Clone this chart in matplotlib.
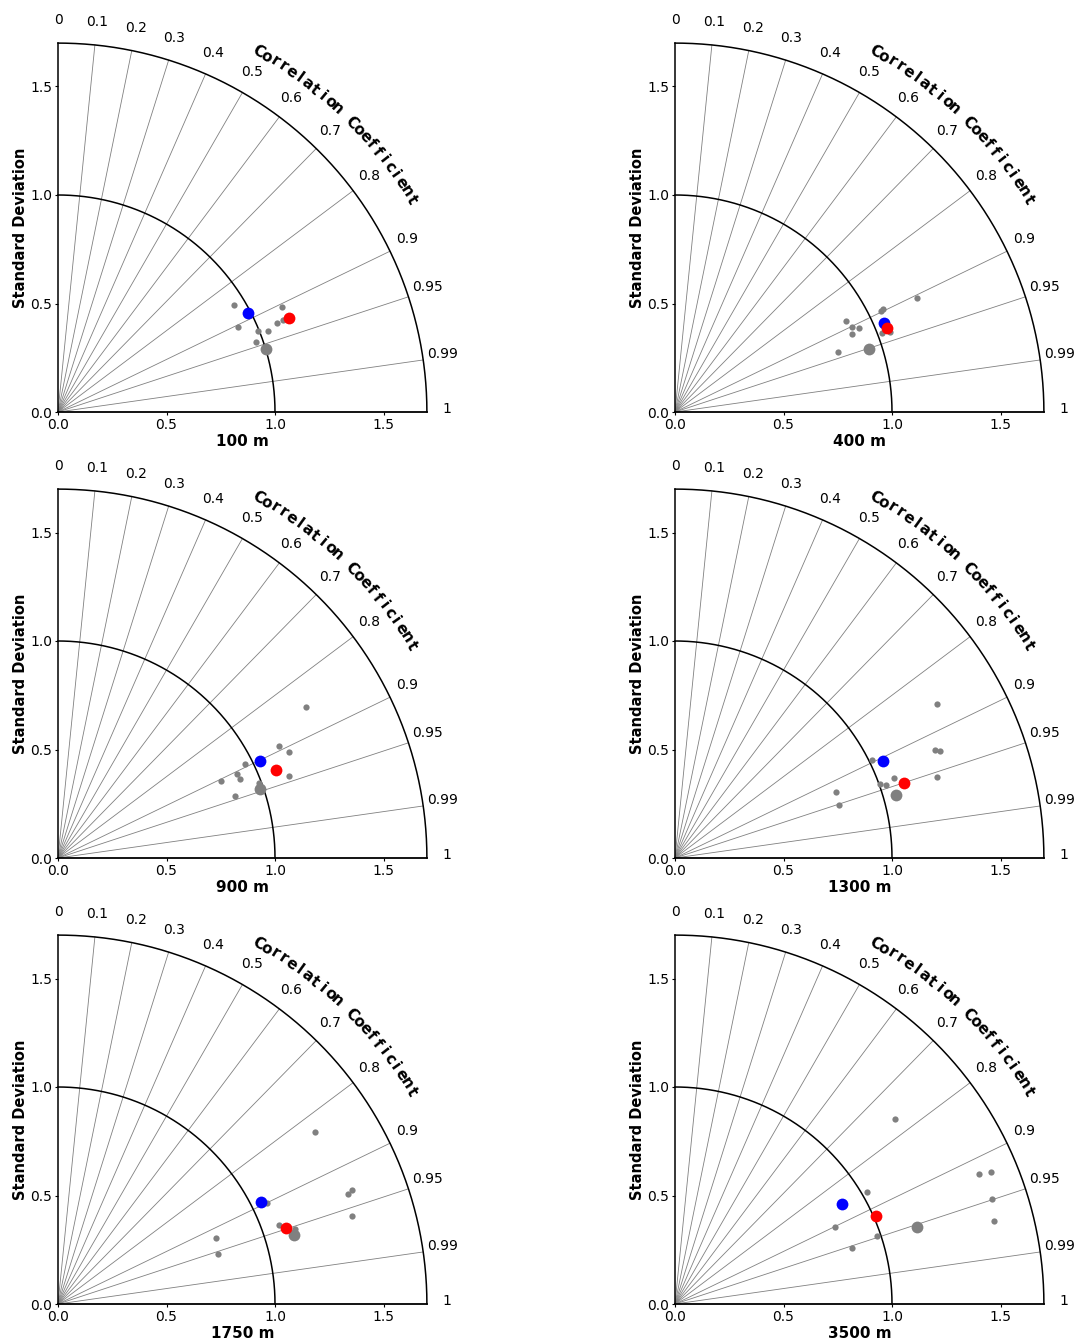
import numpy as np
import matplotlib
matplotlib.use("Agg")
import matplotlib.pyplot as plt

depths = ["100 m", "400 m", "900 m", "1300 m", "1750 m", "3500 m"]

# small grey points (members): std and correlation
members_std = [
    [0.950, 1.141, 1.092, 1.119, 0.916, 0.992, 1.035, 0.967],
    [1.232, 1.058, 1.069, 0.894, 0.902, 0.932, 0.889, 1.022, 1.057, 0.800],
    [1.340, 1.143, 1.172, 0.965, 0.912, 0.916, 0.830, 1.130, 0.988, 0.864],
    [1.401, 1.296, 1.318, 1.016, 1.077, 1.263, 1.004, 1.029, 0.800, 0.796],
    [1.423, 1.452, 1.427, 1.412, 1.068, 1.081, 1.146, 0.788, 0.774],
    [1.324, 1.523, 1.580, 1.537, 1.518, 1.023, 0.817, 0.983, 0.856],
]
members_corr = [
    [0.854, 0.906, 0.926, 0.925, 0.905, 0.927, 0.933, 0.943],
    [0.905, 0.898, 0.896, 0.882, 0.902, 0.910, 0.915, 0.934, 0.938, 0.939],
    [0.854, 0.892, 0.909, 0.894, 0.906, 0.918, 0.904, 0.942, 0.937, 0.944],
    [0.862, 0.924, 0.928, 0.895, 0.939, 0.955, 0.941, 0.945, 0.925, 0.951],
    [0.831, 0.932, 0.935, 0.958, 0.901, 0.941, 0.953, 0.923, 0.955],
    [0.766, 0.920, 0.923, 0.949, 0.968, 0.863, 0.902, 0.948, 0.953],
]
# large grey point
mean_std = [1.002, 0.941, 0.984, 1.058, 1.131, 1.172]
mean_corr = [0.957, 0.952, 0.946, 0.962, 0.960, 0.953]
# blue point
blue_std = [0.986, 1.046, 1.032, 1.057, 1.046, 0.899]
blue_corr = [0.887, 0.920, 0.902, 0.907, 0.893, 0.858]
# red point
red_std = [1.151, 1.052, 1.084, 1.110, 1.105, 1.009]
red_corr = [0.926, 0.930, 0.928, 0.950, 0.949, 0.916]

corr_ticks = [0, 0.1, 0.2, 0.3, 0.4, 0.5, 0.6, 0.7, 0.8, 0.9, 0.95, 0.99, 1]
corr_tick_labels = ["0", "0.1", "0.2", "0.3", "0.4", "0.5", "0.6", "0.7",
                    "0.8", "0.9", "0.95", "0.99", "1"]
std_ticks = [0.0, 0.5, 1.0, 1.5]
std_tick_labels = ["0.0", "0.5", "1.0", "1.5"]
RMAX = 1.7


def to_xy(std, corr):
    std = np.asarray(std, float)
    th = np.arccos(np.asarray(corr, float))
    return std * np.cos(th), std * np.sin(th)


fig = plt.figure(figsize=(10.75, 13.39), dpi=100)
W, H = 1075, 1339
scale = 217.0
lefts = [58, 675]
bottoms = [412, 858, 1304]

for i, name in enumerate(depths):
    row, col = divmod(i, 2)
    x0 = lefts[col]
    y0 = bottoms[row]
    ax = fig.add_axes([x0 / W, (H - y0) / H, RMAX * scale / W, RMAX * scale / H])
    ax.set_xlim(0, RMAX)
    ax.set_ylim(0, RMAX)
    ax.spines["top"].set_visible(False)
    ax.spines["right"].set_visible(False)
    ax.spines["left"].set_linewidth(1.1)
    ax.spines["bottom"].set_linewidth(1.3)
    ax.set_xticks(std_ticks)
    ax.set_xticklabels(std_tick_labels)
    ax.set_yticks(std_ticks)
    ax.set_yticklabels(std_tick_labels)
    ax.tick_params(labelsize=10, length=2.5, pad=1.5)
    ax.set_ylabel("Standard Deviation", fontsize=10.5, fontweight="bold", labelpad=2)
    ax.set_xlabel(name, fontsize=11, fontweight="bold", labelpad=2)

    # radial correlation lines
    for c in corr_ticks[1:-1]:
        xx, yy = to_xy([0, RMAX], [c, c])
        ax.plot(xx, yy, color="grey", lw=0.6, zorder=1, clip_on=False)
    # arcs
    tt = np.linspace(0, np.pi / 2, 300)
    ax.plot(RMAX * np.cos(tt), RMAX * np.sin(tt), color="black", lw=1.1, zorder=2, clip_on=False)
    ax.plot(np.cos(tt), np.sin(tt), color="black", lw=1.1, zorder=2, clip_on=False)

    # correlation labels
    for c, lab in zip(corr_ticks, corr_tick_labels):
        xx, yy = to_xy(1.79, c)
        ax.text(float(xx), float(yy) + 0.015, lab, ha="center", va="center",
                fontsize=10, clip_on=False)

    # curved title
    title = "Correlation Coefficient"
    angs = np.linspace(np.deg2rad(61.0), np.deg2rad(31.0), len(title))
    for ch, a in zip(title, angs):
        ax.text(1.9 * np.cos(a), 1.9 * np.sin(a), ch, rotation=np.rad2deg(a) - 90,
                ha="center", va="center", fontsize=11, fontweight="bold",
                rotation_mode="anchor", clip_on=False)

    # points
    mx, my = to_xy(members_std[i], members_corr[i])
    ax.plot(mx, my, "o", color="grey", ms=4.5, mec="none", zorder=4, clip_on=False)
    gx, gy = to_xy(mean_std[i], mean_corr[i])
    ax.plot(gx, gy, "o", color="grey", ms=8.5, mec="none", zorder=4, clip_on=False)
    bx, by = to_xy(blue_std[i], blue_corr[i])
    ax.plot(bx, by, "o", color="blue", ms=8.5, mec="none", zorder=5, clip_on=False)
    rx, ry = to_xy(red_std[i], red_corr[i])
    ax.plot(rx, ry, "o", color="red", ms=8.5, mec="none", zorder=5, clip_on=False)

fig.savefig("out.png", dpi=100)
